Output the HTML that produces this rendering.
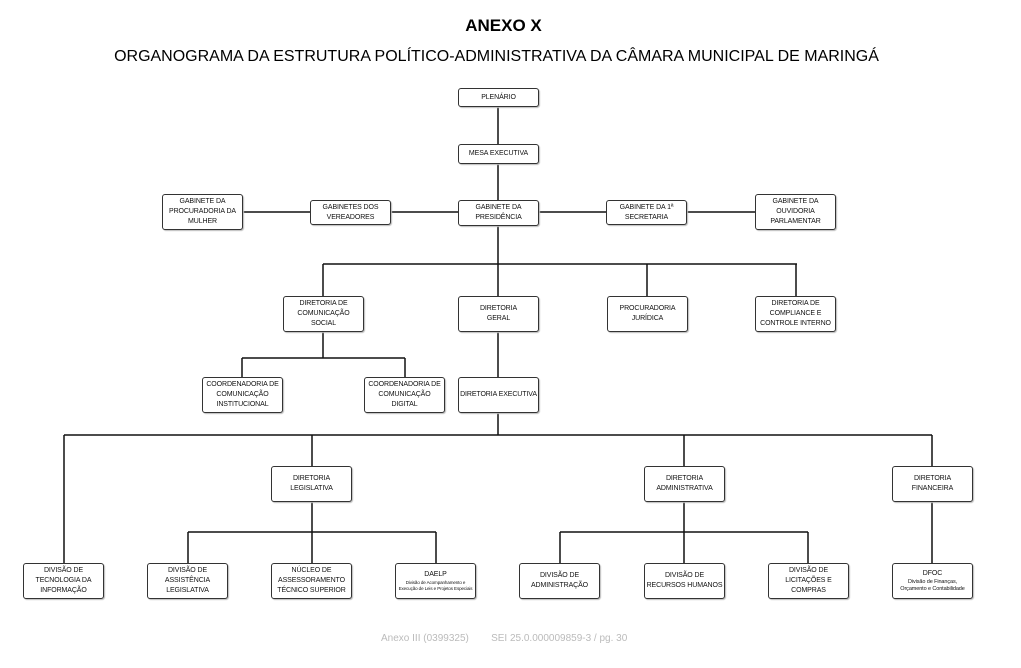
<!DOCTYPE html>
<html><head><meta charset="utf-8"><style>
body{margin:0;width:1021px;height:668px;background:#fff;position:relative;overflow:hidden;font-family:"Liberation Sans",sans-serif;}
.b{position:absolute;border:1px solid #333;border-radius:3px;background:#fff;box-sizing:border-box;display:flex;align-items:center;justify-content:center;text-align:center;font-size:7px;line-height:10px;color:#111;box-shadow:1px 1px 1px #bbb;white-space:nowrap;letter-spacing:-0.1px}
.s{font-size:4.5px;line-height:6px;display:block}
svg{position:absolute;left:0;top:0}
</style></head><body>
<div style="position:absolute;left:0;width:1007px;top:16px;text-align:center;font-weight:bold;font-size:17px">ANEXO X</div>
<div style="position:absolute;left:0;width:993px;top:48px;text-align:center;font-size:16px">ORGANOGRAMA DA ESTRUTURA POLÍTICO-ADMINISTRATIVA DA CÂMARA MUNICIPAL DE MARINGÁ</div>
<svg width="1021" height="668" stroke="#111" stroke-width="1.5" fill="none">
<path d="M498 107V200M498 164V200M243 212H310M391 212H458M539 212H606M687 212H755M498 226V264M323 264H797M323 264V296M498 264V296M647 264V296M796 264V296"/>
<path d="M323 332V358M242 358H405M242 358V377M405 358V377M498 332V377M498 413V435M64 435H932M64 435V563M312 435V466M684 435V466M932 435V466"/>
<path d="M312 502V532M188 532H436M188 532V563M312 532V563M436 532V563M684 502V532M560 532H808M560 532V563M684 532V563M808 532V563M932 502V563"/>
</svg>
<div class="b" style="left:458px;top:88px;width:81px;height:19px">PLENÁRIO</div>
<div class="b" style="left:458px;top:144px;width:81px;height:20px">MESA EXECUTIVA</div>
<div class="b" style="left:162px;top:194px;width:81px;height:36px">GABINETE DA<br>PROCURADORIA DA<br>MULHER</div>
<div class="b" style="left:310px;top:200px;width:81px;height:25px">GABINETES DOS<br>VEREADORES</div>
<div class="b" style="left:458px;top:200px;width:81px;height:26px">GABINETE DA<br>PRESIDÊNCIA</div>
<div class="b" style="left:606px;top:200px;width:81px;height:25px">GABINETE DA 1ª<br>SECRETARIA</div>
<div class="b" style="left:755px;top:194px;width:81px;height:36px">GABINETE DA<br>OUVIDORIA<br>PARLAMENTAR</div>
<div class="b" style="left:283px;top:296px;width:81px;height:36px">DIRETORIA DE<br>COMUNICAÇÃO<br>SOCIAL</div>
<div class="b" style="left:458px;top:296px;width:81px;height:36px">DIRETORIA<br>GERAL</div>
<div class="b" style="left:607px;top:296px;width:81px;height:36px">PROCURADORIA<br>JURÍDICA</div>
<div class="b" style="left:755px;top:296px;width:81px;height:36px">DIRETORIA DE<br>COMPLIANCE E<br>CONTROLE INTERNO</div>
<div class="b" style="left:202px;top:377px;width:81px;height:36px">COORDENADORIA DE<br>COMUNICAÇÃO<br>INSTITUCIONAL</div>
<div class="b" style="left:364px;top:377px;width:81px;height:36px">COORDENADORIA DE<br>COMUNICAÇÃO<br>DIGITAL</div>
<div class="b" style="left:458px;top:377px;width:81px;height:36px">DIRETORIA EXECUTIVA</div>
<div class="b" style="left:271px;top:466px;width:81px;height:36px">DIRETORIA<br>LEGISLATIVA</div>
<div class="b" style="left:644px;top:466px;width:81px;height:36px">DIRETORIA<br>ADMINISTRATIVA</div>
<div class="b" style="left:892px;top:466px;width:81px;height:36px">DIRETORIA<br>FINANCEIRA</div>
<div class="b" style="left:23px;top:563px;width:81px;height:36px">DIVISÃO DE<br>TECNOLOGIA DA<br>INFORMAÇÃO</div>
<div class="b" style="left:147px;top:563px;width:81px;height:36px">DIVISÃO DE<br>ASSISTÊNCIA<br>LEGISLATIVA</div>
<div class="b" style="left:271px;top:563px;width:81px;height:36px">NÚCLEO DE<br>ASSESSORAMENTO<br>TÉCNICO SUPERIOR</div>
<div class="b" style="left:395px;top:563px;width:81px;height:36px"><div>DAELP<span class="s">Divisão de Acompanhamento e<br>Execução de Leis e Projetos Especiais</span></div></div>
<div class="b" style="left:519px;top:563px;width:81px;height:36px">DIVISÃO DE<br>ADMINISTRAÇÃO</div>
<div class="b" style="left:644px;top:563px;width:81px;height:36px">DIVISÃO DE<br>RECURSOS HUMANOS</div>
<div class="b" style="left:768px;top:563px;width:81px;height:36px">DIVISÃO DE<br>LICITAÇÕES E<br>COMPRAS</div>
<div class="b" style="left:892px;top:563px;width:81px;height:36px"><div>DFOC<span class="s" style="font-size:5.5px;line-height:7px">Divisão de Finanças,<br>Orçamento e Contabilidade</span></div></div>
<div style="position:absolute;left:381px;top:633px;font-size:10px;color:#bbb;white-space:pre">Anexo III (0399325)        SEI 25.0.000009859-3 / pg. 30</div>
</body></html>
